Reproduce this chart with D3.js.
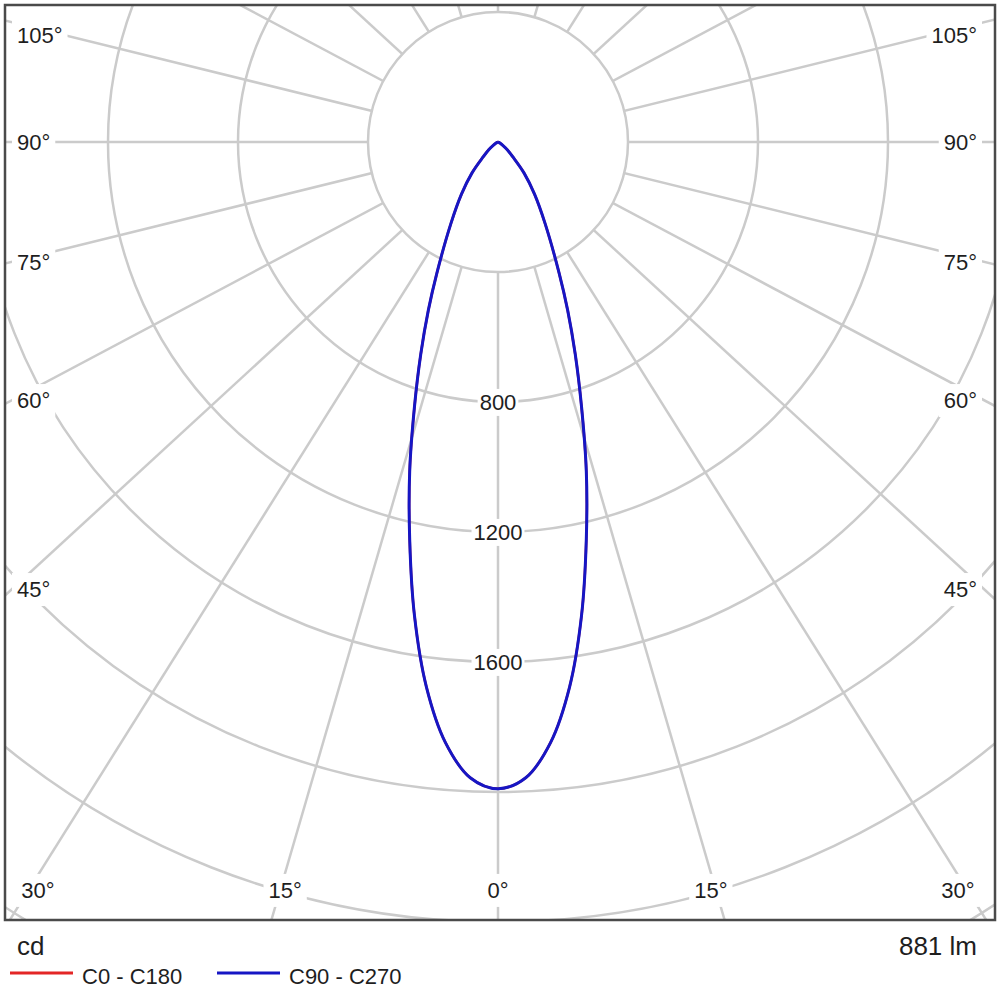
<!DOCTYPE html>
<html>
<head>
<meta charset="utf-8">
<script src="https://cdn.jsdelivr.net/npm/d3@7"></script>
<style>
  body { margin: 0; background: #fff; }
  text { font-family: "Liberation Sans", Arial, sans-serif; fill: #1e1e1e; }
</style>
</head>
<body>
<svg id="chart" width="1000" height="1000"></svg>
<script>

// gamma angles (deg from nadir) and luminous intensity (cd)
var gammaAngles = [0, 2.5, 5, 7.5, 10, 12.5, 15, 17.5, 20, 22.5, 25, 30, 35, 40, 45, 50, 55, 60, 65, 70, 75, 80, 85, 90];
var c0c180  = [1990, 1958, 1855, 1690, 1480, 1255, 1050, 855, 695, 560, 445, 290, 196, 125, 64, 38, 18, 8, 3, 1, 0, 0, 0, 0];
var c90c270 = [1990, 1958, 1855, 1690, 1480, 1255, 1050, 855, 695, 560, 445, 290, 196, 125, 64, 38, 18, 8, 3, 1, 0, 0, 0, 0];

var ringValues = [400, 800, 1200, 1600, 2000, 2400, 2800];
var ringLabels = [800, 1200, 1600];
var spokeAngles = [0, 15, 30, 45, 60, 75, 90, 105, 120, 135, 150, 165, 180];
var angleLabels = [0, 15, 30, 45, 60, 75, 90, 105];
var legendNames = ["C0 - C180", "C90 - C270"];
var legendColors = ["#e32626", "#1616c4"];
var unitText = "cd";
var fluxText = "881 lm";

var chart = {
    svg: null,

    frame: { x0: 5, y0: 5, x1: 995, y1: 920 },
    cx: 498,
    cy: 142,
    gridAspect: 0.92,   // the spokes in the original are slightly flattened

    draw: function () {
        var f = chart.frame;
        chart.svg = d3.select("#chart");
        var svg = chart.svg;

        var r = d3.scaleLinear().domain([0, 2000]).range([0, 650]);

        svg.append("defs").append("clipPath").attr("id", "plotclip")
            .append("rect")
            .attr("x", f.x0).attr("y", f.y0)
            .attr("width", f.x1 - f.x0).attr("height", f.y1 - f.y0);

        var plot = svg.append("g").attr("clip-path", "url(#plotclip)");
        var g = plot.append("g").attr("transform", "translate(" + chart.cx + "," + chart.cy + ")");

        // spokes
        var spokes = [];
        spokeAngles.forEach(function (a) {
            spokes.push({ a: a, side: 1 });
            if (a !== 0 && a !== 180) spokes.push({ a: a, side: -1 });
        });
        g.selectAll(".spoke").data(spokes).enter().append("line")
            .attr("class", "spoke")
            .attr("x1", 0).attr("y1", 0)
            .attr("x2", function (d) { return chart.dir(d.a, d.side)[0] * 1500; })
            .attr("y2", function (d) { return chart.dir(d.a, d.side)[1] * 1500; })
            .attr("stroke", "#cbcbcb")
            .attr("stroke-width", 2.5);

        // rings (innermost one is white filled and hides the spokes)
        g.selectAll(".ring").data(ringValues.slice().reverse()).enter().append("circle")
            .attr("class", "ring")
            .attr("r", function (d) { return r(d); })
            .attr("fill", function (d) { return d === ringValues[0] ? "#fff" : "none"; })
            .attr("stroke", "#cbcbcb")
            .attr("stroke-width", 2.5);

        // intensity curves
        var pts = function (vals) {
            var out = [];
            for (var i = gammaAngles.length - 1; i >= 0; i--) {
                out.push([Math.PI + gammaAngles[i] * Math.PI / 180, r(vals[i])]);
            }
            for (var j = 1; j < gammaAngles.length; j++) {
                out.push([Math.PI - gammaAngles[j] * Math.PI / 180, r(vals[j])]);
            }
            return out;
        };
        var line = d3.lineRadial()
            .angle(function (d) { return d[0]; })
            .radius(function (d) { return d[1]; })
            .curve(d3.curveCatmullRom.alpha(0.5));

        g.append("path").attr("d", line(pts(c0c180)))
            .attr("fill", "none").attr("stroke", legendColors[0]).attr("stroke-width", 2.5);
        g.append("path").attr("d", line(pts(c90c270)))
            .attr("fill", "none").attr("stroke", legendColors[1]).attr("stroke-width", 3);

        // ring value labels along the nadir
        ringLabels.forEach(function (v) {
            chart.boxLabel(g, 0, r(v), v, "middle", 2, 1);
        });

        // angle labels round the edge
        var inL = 12, inR = 984, inB = 890;
        angleLabels.forEach(function (a) {
            var sides = a === 0 ? [1] : [-1, 1];
            sides.forEach(function (s) {
                var d = chart.dir(a, s);
                var tSide = Math.abs(d[0]) > 1e-9 ? (s < 0 ? chart.cx - inL : inR - chart.cx) / Math.abs(d[0]) : Infinity;
                var tBot = d[1] > 1e-9 ? (inB - chart.cy) / d[1] : Infinity;
                var x, y, anchor;
                if (tSide < tBot) {
                    x = s < 0 ? 17 : 977;
                    y = Math.max(chart.cy + d[1] * tSide, 35);
                    anchor = s < 0 ? "start" : "end";
                } else {
                    x = chart.cx + d[0] * tBot - (a === 0 ? 0 : s * 5);
                    x = Math.max(38, Math.min(958, x));
                    y = inB;
                    anchor = "middle";
                }
                chart.boxLabel(plot, x, y, a + "°", anchor, 5, 4);
            });
        });

        // frame
        svg.append("rect")
            .attr("x", f.x0).attr("y", f.y0)
            .attr("width", f.x1 - f.x0).attr("height", f.y1 - f.y0)
            .attr("fill", "none").attr("stroke", "#4a4a4a").attr("stroke-width", 2.5);

        // footer
        svg.append("text").attr("x", 17).attr("y", 955)
            .style("font-size", "26px").text(unitText);
        svg.append("text").attr("x", 977).attr("y", 955)
            .attr("text-anchor", "end")
            .style("font-size", "26px").text(fluxText);

        var legX = [10, 217];
        legendNames.forEach(function (name, i) {
            svg.append("line")
                .attr("x1", legX[i]).attr("x2", legX[i] + 63)
                .attr("y1", 973).attr("y2", 973)
                .attr("stroke", legendColors[i]).attr("stroke-width", 3);
            svg.append("text").attr("x", legX[i] + 72).attr("y", 984)
                .style("font-size", "22px").text(name);
        });
    },

    dir: function (deg, side) {
        var t = deg * Math.PI / 180;
        var dx = side * Math.sin(t), dy = chart.gridAspect * Math.cos(t);
        var n = Math.sqrt(dx * dx + dy * dy);
        return [dx / n, dy / n];
    },

    boxLabel: function (parent, x, y, txt, anchor, padX, padY) {
        var grp = parent.append("g");
        var t = grp.append("text")
            .attr("x", x).attr("y", y).attr("dy", "0.36em")
            .attr("text-anchor", anchor)
            .style("font-size", "22px")
            .text(txt);
        var bb = t.node().getBBox();
        grp.insert("rect", "text")
            .attr("x", bb.x - padX).attr("y", bb.y - padY)
            .attr("width", bb.width + 2 * padX).attr("height", bb.height + 2 * padY)
            .attr("fill", "#fff");
    }
};

chart.draw();
</script>
</body>
</html>
